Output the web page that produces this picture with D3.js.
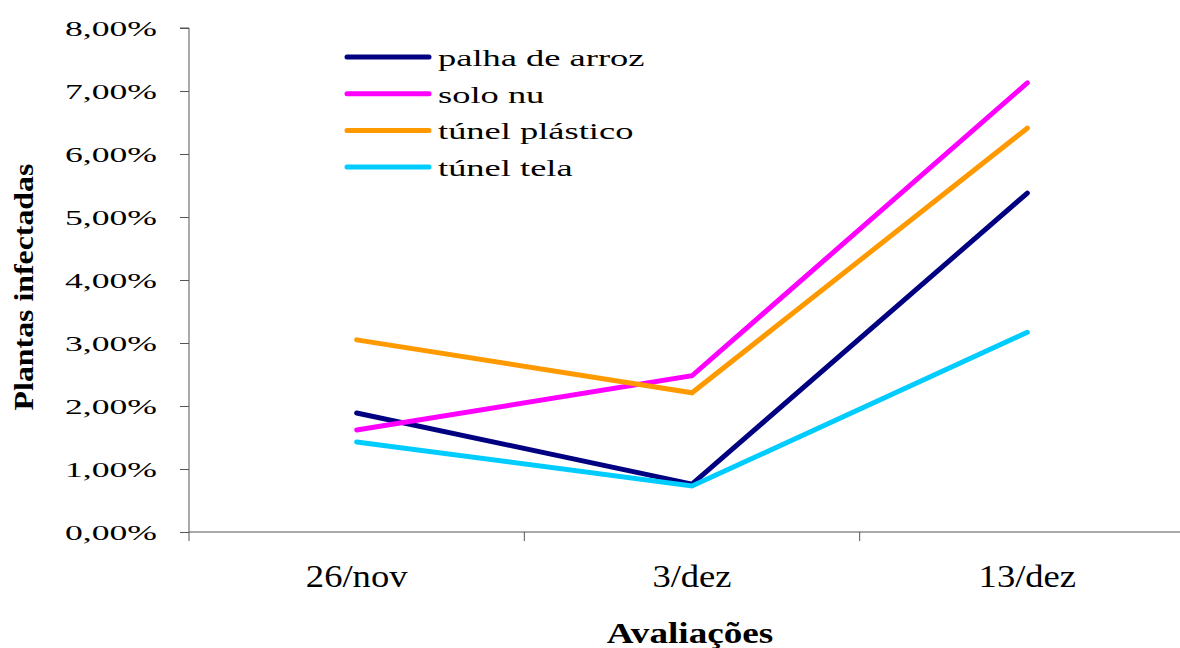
<!DOCTYPE html>
<html>
<head>
<meta charset="utf-8">
<script src="https://cdn.jsdelivr.net/npm/d3@7"></script>
<style>
  body { margin: 0; background: #fff; }
  svg { display: block; font-family: "Liberation Serif", "Times New Roman", serif; }
</style>
</head>
<body>
<script>
const categories = ["26/nov", "3/dez", "13/dez"];
const seriesNames = ["palha de arroz", "solo nu", "túnel plástico", "túnel tela"];
const palha = [0.0189, 0.0076, 0.0538];
const soloNu = [0.0162, 0.0248, 0.0713];
const tunelPlastico = [0.0305, 0.0221, 0.0641];
const tunelTela = [0.0143, 0.0073, 0.0317];
const yTicks = [0, 0.01, 0.02, 0.03, 0.04, 0.05, 0.06, 0.07, 0.08];
const colors = ["#000080", "#ff00ff", "#ff9900", "#00ccff"];

const series = [palha, soloNu, tunelPlastico, tunelTela].map((values, i) => ({
  name: seriesNames[i],
  color: colors[i],
  values: values.map((v, j) => ({ cat: categories[j], v }))
}));

const width = 1180, height = 648;
const ptBR = d3.formatLocale({ decimal: ",", thousands: ".", grouping: [3], currency: ["R$", ""] });
const pct = ptBR.format(".2%");

const svg = d3.select("body").append("svg")
  .attr("width", width)
  .attr("height", height);

const x = d3.scaleBand().domain(categories).range([189, 1195]).padding(0);
const y = d3.scaleLinear().domain([0, 0.08]).range([532, 28]);

// y axis (ticks only, labels drawn below so they can be stretched)
svg.append("g")
  .attr("transform", "translate(189,0)")
  .call(d3.axisLeft(y).tickValues(yTicks).tickSize(9).tickFormat(""))
  .call(g => g.select(".domain").attr("stroke", "#555").attr("d", `M-9,${y(0.08)}H0V${y(0)}`))
  .call(g => g.selectAll(".tick line").attr("stroke", "#555"));

svg.append("g")
  .selectAll("text")
  .data(yTicks)
  .join("text")
  .attr("transform", d => `translate(157,${y(d) + 8}) scale(1.62,1)`)
  .attr("text-anchor", "end")
  .attr("font-size", 22)
  .attr("fill", "#000")
  .text(d => pct(d));

// x axis
const xAxis = svg.append("g").attr("transform", `translate(0,${y(0)})`);
xAxis.append("line")
  .attr("x1", 189).attr("x2", width)
  .attr("stroke", "#555");
xAxis.selectAll(".tk")
  .data(categories)
  .join("line")
  .attr("class", "tk")
  .attr("x1", d => x(d)).attr("x2", d => x(d))
  .attr("y1", 0).attr("y2", 9)
  .attr("stroke", "#555");

svg.append("g")
  .selectAll("text")
  .data(categories)
  .join("text")
  .attr("transform", d => `translate(${x(d) + x.bandwidth() / 2},587) scale(1.18,1)`)
  .attr("text-anchor", "middle")
  .attr("font-size", 31)
  .text(d => d);

// axis titles
svg.append("text")
  .attr("transform", "translate(690,643) scale(1.24,1)")
  .attr("text-anchor", "middle")
  .attr("font-size", 30)
  .attr("font-weight", "bold")
  .text("Avaliações");

svg.append("text")
  .attr("transform", "translate(33,287) rotate(-90) scale(1.18,1)")
  .attr("text-anchor", "middle")
  .attr("font-size", 27)
  .attr("font-weight", "bold")
  .text("Plantas infectadas");

// lines
const line = d3.line()
  .x(d => x(d.cat) + x.bandwidth() / 2)
  .y(d => y(d.v));

svg.append("g")
  .selectAll("path")
  .data(series)
  .join("path")
  .attr("d", d => line(d.values))
  .attr("fill", "none")
  .attr("stroke", d => d.color)
  .attr("stroke-width", 5)
  .attr("stroke-linecap", "round")
  .attr("stroke-linejoin", "miter");

// legend
const legend = svg.append("g")
  .selectAll("g")
  .data(series)
  .join("g")
  .attr("transform", (d, i) => `translate(347,${57 + i * 36.7})`);

legend.append("line")
  .attr("x1", 0).attr("x2", 82)
  .attr("stroke", d => d.color)
  .attr("stroke-width", 5)
  .attr("stroke-linecap", "round");

legend.append("text")
  .attr("transform", "translate(91,9) scale(1.52,1)")
  .attr("font-size", 24)
  .text(d => d.name);
</script>
</body>
</html>
